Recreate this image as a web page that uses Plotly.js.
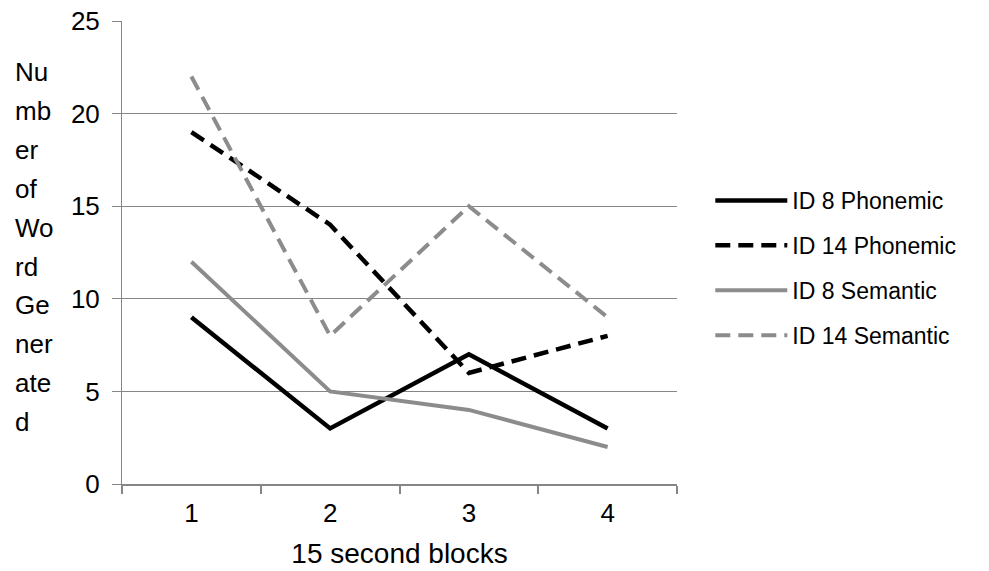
<!DOCTYPE html>
<html>
<head>
<meta charset="utf-8">
<script src="https://cdn.plot.ly/plotly-3.0.1.min.js"></script>
<style>
html,body{margin:0;padding:0;background:#fff;}
#chart{width:989px;height:571px;}
</style>
</head>
<body>
<div id="chart"></div>
<script>
const categories = ["1", "2", "3", "4"];
const seriesNames = ["ID 8 Phonemic", "ID 14 Phonemic", "ID 8 Semantic", "ID 14 Semantic"];
const id8Phonemic = [9, 3, 7, 3];
const id14Phonemic = [19, 14, 6, 8];
const id8Semantic = [12, 5, 4, 2];
const id14Semantic = [22, 8, 15, 9];
const yTitleLines = ["Nu", "mb", "er", "of", "Wo", "rd", "Ge", "ner", "ate", "d"];
const xTitle = "15 second blocks";

const FONT = "Liberation Sans, Arial, sans-serif";
const BLACK = "#000000";
const GREY = "#8c8c8c";
const DASH = "15px,8px";

const seriesValues = [id8Phonemic, id14Phonemic, id8Semantic, id14Semantic];
const seriesStyles = [
  {color: BLACK, width: 4.5, dash: "solid"},
  {color: BLACK, width: 4.5, dash: DASH},
  {color: GREY, width: 4, dash: "solid"},
  {color: GREY, width: 4, dash: DASH}
];

const traces = seriesValues.map((vals, i) => ({
  type: "scatter",
  mode: "lines",
  x: categories,
  y: vals,
  name: seriesNames[i],
  legendgroup: "g" + i,
  line: seriesStyles[i],
  hoverinfo: "skip"
}));

// plot area geometry (px)
const L = 122, R = 312, T = 21, B = 87, W = 989, H = 571;
const plotH = H - T - B, plotW = W - L - R;

const annotations = yTitleLines.map((t, i) => ({
  text: t,
  xref: "paper", yref: "paper",
  x: (13 - L) / plotW,
  y: (H - B - (72 + i * 38.9)) / plotH,
  xanchor: "left", yanchor: "middle",
  showarrow: false,
  font: {family: FONT, size: 26, color: "#000"}
}));

const layout = {
  width: W, height: H,
  margin: {l: L, r: R, t: T, b: B, pad: 0},
  paper_bgcolor: "#fff",
  plot_bgcolor: "#fff",
  showlegend: true,
  legend: {
    x: 1.06, xanchor: "left",
    y: (H - B - 268) / plotH, yanchor: "middle",
    traceorder: "grouped",
    tracegroupgap: 12,
    itemwidth: 72,
    font: {family: FONT, size: 23, color: "#000"},
    bgcolor: "rgba(0,0,0,0)"
  },
  xaxis: {
    type: "category",
    range: [-0.5, 3.5],
    showgrid: false,
    zeroline: false,
    showline: true,
    linecolor: "#868686",
    linewidth: 2,
    ticks: "outside",
    tickson: "boundaries",
    ticklen: 8,
    tickwidth: 2,
    tickcolor: "#868686",
    ticklabelstandoff: 5,
    tickfont: {family: FONT, size: 26, color: "#000"},
    title: {text: xTitle, font: {family: FONT, size: 28, color: "#000"}, standoff: 16},
    fixedrange: true
  },
  yaxis: {
    range: [0, 25],
    dtick: 5,
    tick0: 0,
    showgrid: true,
    gridcolor: "#868686",
    gridwidth: 1,
    zeroline: false,
    showline: true,
    linecolor: "#868686",
    linewidth: 1,
    ticks: "outside",
    ticklen: 9,
    tickwidth: 1,
    tickcolor: "#868686",
    ticklabelstandoff: 7,
    tickfont: {family: FONT, size: 26, color: "#000"},
    fixedrange: true
  },
  annotations: annotations
};

Plotly.newPlot("chart", traces, layout, {displayModeBar: false, staticPlot: true});
</script>
</body>
</html>
